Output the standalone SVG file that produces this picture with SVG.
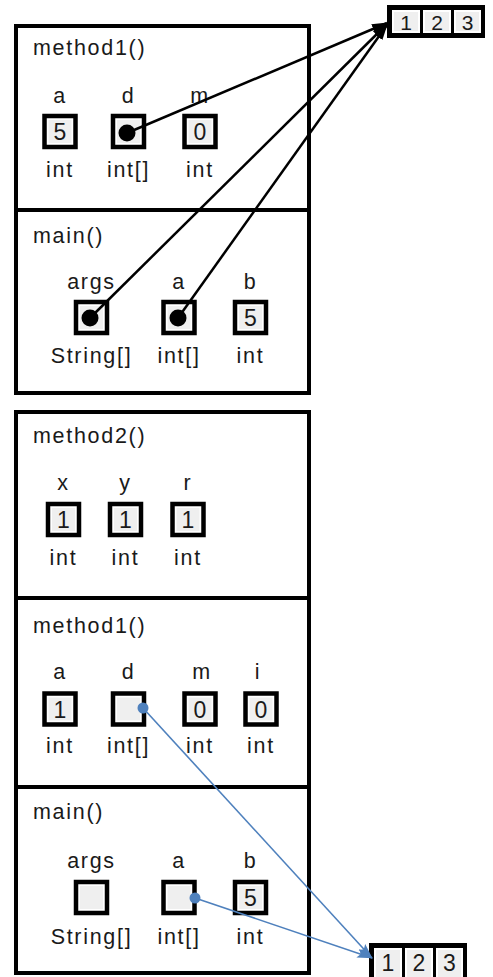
<svg xmlns="http://www.w3.org/2000/svg" width="493" height="977" viewBox="0 0 493 977">
<style>
.frame{fill:none;stroke:#000;stroke-width:4}
.div{stroke:#000;stroke-width:4}
.t{font-family:"Liberation Sans",Arial,sans-serif;font-size:21.5px;letter-spacing:1.7px;fill:#1a1a1a}
.c{text-anchor:middle}
.v{font-family:"Liberation Sans",Arial,sans-serif;font-size:23px;fill:#1a1a1a;text-anchor:middle}
.av{font-family:"Liberation Sans",Arial,sans-serif;font-size:21px;fill:#1a1a1a;text-anchor:middle}
.box{fill:#fff;stroke:#000;stroke-width:4.5}
.in{fill:#efefef}
.arr{fill:none;stroke:#000;stroke-width:2.5}
.blue{fill:none;stroke:#4f81bd;stroke-width:1.6}
</style>
<defs>
<marker id="ah" markerUnits="userSpaceOnUse" markerWidth="18" markerHeight="12" refX="15" refY="5" orient="auto">
<path d="M0,0 L16,5 L0,10 z" fill="#000"/>
</marker>
<marker id="bh" markerUnits="userSpaceOnUse" markerWidth="18" markerHeight="12" refX="15" refY="4.5" orient="auto">
<path d="M0,0 L16,4.5 L0,9 L3,4.5 z" fill="#4f81bd"/>
</marker>
<g id="vbox">
<rect class="box" x="-15.5" y="-15.5" width="31" height="31"/>
<rect class="in" x="-11.5" y="-11.5" width="23" height="23"/>
</g>
</defs>

<!-- Upper stack -->
<g id="stack1">
<rect class="frame" x="16" y="26" width="293" height="367"/>
<line class="div" x1="14" y1="210" x2="311" y2="210"/>
</g>

<g id="s1-method1">
<text class="t" x="33" y="55">method1()</text>
<text class="t c" x="60" y="103">a</text>
<text class="t c" x="128.5" y="103">d</text>
<text class="t c" x="200" y="103">m</text>
<use href="#vbox" x="60" y="131.5"/>
<use href="#vbox" x="128.5" y="131.5"/>
<use href="#vbox" x="200" y="131.5"/>
<text class="v" x="60" y="140">5</text>
<text class="v" x="200" y="140">0</text>
<circle cx="127" cy="133" r="8.5" fill="#000"/>
<text class="t c" x="60" y="177">int</text>
<text class="t c" x="128.5" y="177">int[]</text>
<text class="t c" x="200" y="177">int</text>
</g>

<g id="s1-main">
<text class="t" x="33" y="243">main()</text>
<text class="t c" x="91.5" y="289">args</text>
<text class="t c" x="179" y="289">a</text>
<text class="t c" x="250.5" y="289">b</text>
<use href="#vbox" x="91.5" y="317.5"/>
<use href="#vbox" x="179" y="317.5"/>
<use href="#vbox" x="250.5" y="317.5"/>
<circle cx="90" cy="318" r="8.5" fill="#000"/>
<circle cx="178" cy="318" r="8.5" fill="#000"/>
<text class="v" x="250.5" y="326">5</text>
<text class="t c" x="91.5" y="363">String[]</text>
<text class="t c" x="179" y="363">int[]</text>
<text class="t c" x="250.5" y="363">int</text>
</g>

<g id="array1">
<rect x="387" y="5" width="98" height="33" fill="#000"/>
<rect x="392" y="10" width="28" height="23" fill="#fff"/>
<rect x="423" y="10" width="28" height="23" fill="#fff"/>
<rect x="454" y="10" width="27" height="23" fill="#fff"/>
<rect x="394" y="12" width="24" height="19" fill="#efefef"/>
<rect x="425" y="12" width="24" height="19" fill="#efefef"/>
<rect x="456" y="12" width="23" height="19" fill="#efefef"/>
<text class="av" x="406" y="30">1</text>
<text class="av" x="437" y="30">2</text>
<text class="av" x="467.5" y="30">3</text>
</g>

<!-- Lower stack -->
<g id="stack2">
<rect class="frame" x="16" y="412" width="293" height="561"/>
<line class="div" x1="14" y1="598" x2="311" y2="598"/>
<line class="div" x1="14" y1="787" x2="311" y2="787"/>
</g>

<g id="s2-method2">
<text class="t" x="33" y="443">method2()</text>
<text class="t c" x="63.5" y="490">x</text>
<text class="t c" x="125.5" y="490">y</text>
<text class="t c" x="188" y="490">r</text>
<use href="#vbox" x="63.5" y="519.5"/>
<use href="#vbox" x="125.5" y="519.5"/>
<use href="#vbox" x="188" y="519.5"/>
<text class="v" x="63.5" y="528">1</text>
<text class="v" x="125.5" y="528">1</text>
<text class="v" x="188" y="528">1</text>
<text class="t c" x="63.5" y="565">int</text>
<text class="t c" x="125.5" y="565">int</text>
<text class="t c" x="188" y="565">int</text>
</g>

<g id="s2-method1">
<text class="t" x="33" y="633">method1()</text>
<text class="t c" x="60" y="679">a</text>
<text class="t c" x="128.5" y="679">d</text>
<text class="t c" x="202" y="679">m</text>
<text class="t c" x="258" y="679">i</text>
<use href="#vbox" x="60" y="709"/>
<use href="#vbox" x="128.5" y="709"/>
<use href="#vbox" x="200" y="709"/>
<use href="#vbox" x="261" y="709"/>
<text class="v" x="60" y="717.5">1</text>
<text class="v" x="200" y="717.5">0</text>
<text class="v" x="261" y="717.5">0</text>
<text class="t c" x="60" y="753">int</text>
<text class="t c" x="128.5" y="753">int[]</text>
<text class="t c" x="200" y="753">int</text>
<text class="t c" x="261" y="753">int</text>
</g>

<g id="s2-main">
<text class="t" x="33" y="819">main()</text>
<text class="t c" x="91.5" y="868">args</text>
<text class="t c" x="179" y="868">a</text>
<text class="t c" x="250.5" y="868">b</text>
<use href="#vbox" x="91.5" y="897.5"/>
<use href="#vbox" x="179" y="897.5"/>
<use href="#vbox" x="250.5" y="897.5"/>
<text class="v" x="250.5" y="906">5</text>
<text class="t c" x="91.5" y="944">String[]</text>
<text class="t c" x="179" y="944">int[]</text>
<text class="t c" x="250.5" y="944">int</text>
</g>

<g id="array2">
<rect x="369" y="943" width="98" height="37" fill="#000"/>
<rect x="374" y="948" width="28" height="29" fill="#fff"/>
<rect x="405" y="948" width="28" height="29" fill="#fff"/>
<rect x="436" y="948" width="27" height="29" fill="#fff"/>
<rect x="376" y="950" width="24" height="27" fill="#efefef"/>
<rect x="407" y="950" width="24" height="27" fill="#efefef"/>
<rect x="438" y="950" width="23" height="27" fill="#efefef"/>
<text class="v" x="388" y="971">1</text>
<text class="v" x="419" y="971">2</text>
<text class="v" x="449.5" y="971">3</text>
</g>

<g id="connectors">
<line class="arr" x1="127" y1="133" x2="387" y2="23" marker-end="url(#ah)"/>
<line class="arr" x1="90" y1="318" x2="387" y2="24" marker-end="url(#ah)"/>
<line class="arr" x1="178" y1="318" x2="387" y2="25" marker-end="url(#ah)"/>
<line class="blue" x1="143" y1="708" x2="372" y2="958" marker-end="url(#bh)"/>
<line class="blue" x1="195" y1="898" x2="372" y2="958" marker-end="url(#bh)"/>
<circle cx="143" cy="708" r="5.5" fill="#4f81bd"/>
<circle cx="195" cy="898" r="5.5" fill="#4f81bd"/>
</g>
</svg>
